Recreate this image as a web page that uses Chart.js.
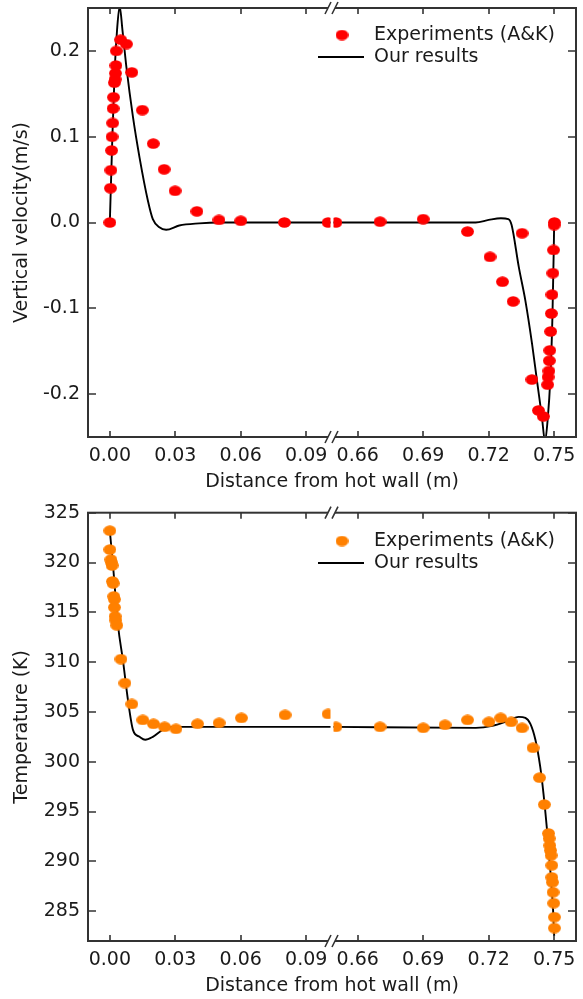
<!DOCTYPE html>
<html>
<head>
<meta charset="utf-8">
<script src="https://cdn.jsdelivr.net/npm/chart.js@4.4.1/dist/chart.umd.min.js"></script>
<style>
  html, body { margin: 0; padding: 0; background: #fff; }
  canvas { display: block; }
</style>
</head>
<body>
<canvas id="velocity-chart" width="583" height="500"></canvas>
<canvas id="temperature-chart" width="583" height="499"></canvas>
<script>
const xTicksNear = [0, 0.03, 0.06, 0.09]
const xTicksFar = [0.66, 0.69, 0.72, 0.75]
const velTicks = [-0.2, -0.1, 0, 0.1, 0.2]
const tempTicks = [285, 290, 295, 300, 305, 310, 315, 320, 325]

// [distance (m), vertical velocity (m/s)]
const velExp = [
  [0, 0], [0.0003, 0.040], [0.0005, 0.061], [0.0008, 0.084], [0.001, 0.100], [0.0013, 0.116],
  [0.0015, 0.133], [0.0017, 0.146], [0.0021, 0.163], [0.0024, 0.167], [0.0026, 0.174],
  [0.0028, 0.183], [0.003, 0.200], [0.005, 0.213], [0.0076, 0.208], [0.0101, 0.175],
  [0.0149, 0.131], [0.0199, 0.092], [0.0249, 0.062], [0.0299, 0.037], [0.0399, 0.013],
  [0.05, 0.003], [0.06, 0.002], [0.08, 0.000], [0.1, 0.0],
  [0.65, 0.0], [0.6702, 0.001], [0.69, 0.004], [0.7103, -0.0105], [0.7206, -0.040],
  [0.7263, -0.069], [0.7312, -0.092], [0.7353, -0.0125], [0.7398, -0.183], [0.7428, -0.219],
  [0.745, -0.226], [0.747, -0.189], [0.7472, -0.180], [0.7476, -0.173], [0.7478, -0.161],
  [0.748, -0.149], [0.7484, -0.127], [0.7487, -0.106], [0.749, -0.084], [0.7494, -0.059],
  [0.7497, -0.032], [0.75, -0.003], [0.7501, 0.0]
]
const velSim = [
  [0, 0], [0.0012, 0.103], [0.0023, 0.181], [0.0033, 0.224], [0.0045, 0.252], [0.0058, 0.224],
  [0.0076, 0.181], [0.0106, 0.123], [0.0136, 0.076], [0.0174, 0.026], [0.0197, 0.004],
  [0.0227, -0.0055], [0.0258, -0.0085], [0.0318, -0.0035], [0.0409, -0.001], [0.05, 0], [0.102, 0],
  [0.648, 0], [0.714, 0], [0.72, 0.003], [0.7256, 0.005], [0.729, 0.004], [0.7305, -0.003],
  [0.7338, -0.052], [0.7368, -0.091], [0.7399, -0.142], [0.7421, -0.184], [0.7444, -0.227],
  [0.7458, -0.255], [0.7471, -0.227], [0.7482, -0.184], [0.7492, -0.11], [0.7498, -0.033], [0.75, 0]
]

// [distance (m), temperature (K)]
const tempExp = [
  [0, 323.2], [0, 321.3], [0.0005, 320.3], [0.0008, 320.0], [0.001, 319.7], [0.0012, 318.1],
  [0.0015, 317.9], [0.0018, 316.6], [0.0021, 316.3], [0.0021, 315.5], [0.0024, 314.6],
  [0.0027, 314.2], [0.0032, 313.7], [0.0051, 310.3], [0.0069, 307.9], [0.0101, 305.8],
  [0.0151, 304.2], [0.02, 303.8], [0.0251, 303.5], [0.0303, 303.3], [0.0402, 303.8],
  [0.0501, 303.9], [0.0603, 304.4], [0.0803, 304.7], [0.1, 304.8],
  [0.65, 303.5], [0.6702, 303.5], [0.69, 303.4], [0.70, 303.7], [0.7103, 304.2], [0.7201, 304.0],
  [0.7255, 304.4], [0.7303, 304.0], [0.7353, 303.4], [0.7403, 301.4], [0.7433, 298.4],
  [0.7455, 295.7], [0.7474, 292.8], [0.7477, 292.3], [0.748, 291.6], [0.7483, 291.1],
  [0.7486, 290.6], [0.7489, 289.6], [0.7489, 288.4], [0.7492, 287.9], [0.7495, 286.9],
  [0.7498, 285.8], [0.7501, 284.4], [0.7501, 283.3]
]
const tempSim = [
  [0, 323.2], [0.0015, 319.6], [0.0038, 313.6], [0.006, 310.2], [0.0083, 306.2], [0.0106, 303.2],
  [0.0136, 302.5], [0.0162, 302.2], [0.0197, 302.5], [0.0242, 303.2], [0.0288, 303.5], [0.102, 303.5],
  [0.648, 303.5], [0.7141, 303.4], [0.7217, 303.6], [0.7277, 304.0], [0.7338, 304.5], [0.7368, 304.4],
  [0.7391, 303.8], [0.7414, 302.2], [0.7436, 299.5], [0.7451, 296.8], [0.7467, 293.2],
  [0.7482, 289.2], [0.7495, 285.1], [0.75, 282.5]
]

const FONT = "'DejaVu Sans', sans-serif"
const TEXT = '#1a1a1a'
const AXIS = '#333333'

const near = pts => pts.filter(p => p[0] < 0.3).map(([x, y]) => ({x, y}))
const far = pts => pts.filter(p => p[0] > 0.3).map(([x, y]) => ({x, y}))

const dotImage = function (color) {
  const c = document.createElement('canvas')
  c.width = 13
  c.height = 11
  const g = c.getContext('2d')
  g.fillStyle = color
  g.beginPath()
  g.ellipse(6.5, 5.5, 6.4, 5.3, 0, 0, Math.PI * 2)
  g.fill()
  return c
}

const noPad = s => { s.paddingTop = 0; s.paddingBottom = 0; s.paddingLeft = 0; s.paddingRight = 0 }

// each half of the broken axis only shows its own marks, with a thin gap at the break
const splitClipPlugin = {
  id: 'splitClip',
  beforeDatasetDraw(chart, args) {
    const xs = chart.scales[args.meta.xAxisID]
    const {top, bottom} = chart.chartArea
    const l = xs.id === 'xFar' ? xs.left + 1.5 : xs.left
    const r = xs.id === 'xNear' ? xs.right - 1.5 : xs.right
    chart.ctx.save()
    chart.ctx.beginPath()
    chart.ctx.rect(l, top, r - l, bottom - top)
    chart.ctx.clip()
  },
  afterDatasetDraw(chart) {
    chart.ctx.restore()
  }
}

// inward ticks on all four sides, frame and the // axis break
const framePlugin = {
  id: 'frame',
  afterDatasetsDraw(chart) {
    const {ctx, chartArea: {left, right, top, bottom}, scales} = chart
    ctx.save()
    ctx.strokeStyle = AXIS
    ctx.lineWidth = 2
    ctx.strokeRect(left, top, right - left, bottom - top)
    ctx.lineWidth = 1.6
    ctx.beginPath()
    for (const id of ['xNear', 'xFar']) {
      for (const t of scales[id].ticks) {
        const x = Math.round(scales[id].getPixelForValue(t.value))
        ctx.moveTo(x, bottom); ctx.lineTo(x, bottom - 6)
        ctx.moveTo(x, top); ctx.lineTo(x, top + 6)
      }
    }
    for (const t of scales.y.ticks) {
      const y = Math.round(scales.y.getPixelForValue(t.value))
      ctx.moveTo(left, y); ctx.lineTo(left + 8, y)
      ctx.moveTo(right, y); ctx.lineTo(right - 8, y)
    }
    ctx.stroke()
    const bx = scales.xNear.right
    for (const y of [top, bottom]) {
      ctx.fillStyle = '#fff'
      ctx.fillRect(bx - 4, y - 2, 7, 4)
      ctx.beginPath()
      ctx.moveTo(bx - 7, y + 6); ctx.lineTo(bx - 1, y - 6)
      ctx.moveTo(bx, y + 6); ctx.lineTo(bx + 6, y - 6)
      ctx.stroke()
    }
    ctx.restore()
  }
}

const legendPlugin = {
  id: 'cornerLegend',
  afterDraw(chart, args, opts) {
    const ctx = chart.ctx
    const ds = chart.data.datasets
    ctx.save()
    ctx.font = '19px ' + FONT
    ctx.fillStyle = TEXT
    ctx.textBaseline = 'middle'
    ctx.drawImage(opts.dot, opts.x + 24 - 6.5, opts.y - 5.5)
    ctx.fillText(ds[0].label, opts.x + 56, opts.y)
    ctx.strokeStyle = '#000'
    ctx.lineWidth = 2
    ctx.beginPath()
    ctx.moveTo(opts.x, opts.y + opts.gap)
    ctx.lineTo(opts.x + 46, opts.y + opts.gap)
    ctx.stroke()
    ctx.fillText(ds[2].label, opts.x + 56, opts.y + opts.gap)
    ctx.restore()
  }
}

const makeChart = function (canvasId, exp, sim, dotColor, yCfg, layoutTop, titleGap, legendY) {
  const dot = dotImage(dotColor)
  const expStyle = { showLine: false, pointStyle: dot, pointRadius: 6, pointHoverRadius: 6, clip: false }
  const simStyle = { showLine: true, pointRadius: 0, borderColor: '#000', backgroundColor: '#000',
    borderWidth: 1.9, cubicInterpolationMode: 'monotone', clip: false }
  const xAxis = (min, max, ticks) => ({
    type: 'linear', position: 'bottom', stack: 'x', stackWeight: 1, min, max,
    afterBuildTicks: s => { s.ticks = ticks.map(v => ({value: v})) },
    afterFit: s => { s.height = 28; noPad(s) },
    grid: { display: false, drawTicks: false },
    border: { display: false },
    ticks: { padding: 8, color: TEXT, font: { family: FONT, size: 19 }, callback: v => v.toFixed(2) }
  })
  return new Chart(document.getElementById(canvasId), {
    type: 'scatter',
    data: {
      datasets: [
        { label: 'Experiments (A&K)', data: near(exp), xAxisID: 'xNear', ...expStyle },
        { label: 'Experiments (A&K)', data: far(exp), xAxisID: 'xFar', ...expStyle },
        { label: 'Our results', data: near(sim), xAxisID: 'xNear', ...simStyle },
        { label: 'Our results', data: far(sim), xAxisID: 'xFar', ...simStyle }
      ]
    },
    options: {
      responsive: false,
      animation: false,
      layout: { padding: { left: 0, right: 3, top: layoutTop, bottom: 0 } },
      scales: {
        xNear: xAxis(-0.01, 0.1018, xTicksNear),
        xFar: xAxis(0.6482, 0.76, xTicksFar),
        y: {
          type: 'linear', position: 'left', min: yCfg.min, max: yCfg.max,
          afterBuildTicks: s => { s.ticks = yCfg.ticks.map(v => ({value: v})) },
          afterFit: s => { s.width = 88; noPad(s) },
          grid: { display: false, drawTicks: false },
          border: { display: false },
          ticks: { padding: 8, color: TEXT, font: { family: FONT, size: 19 }, callback: yCfg.format },
          title: { display: true, text: yCfg.title, color: TEXT, font: { family: FONT, size: 19 },
            padding: { top: 11, bottom: 0 } }
        }
      },
      plugins: {
        legend: { display: false },
        tooltip: { enabled: false },
        title: {
          display: true, text: 'Distance from hot wall (m)', position: 'bottom', fullSize: false,
          color: TEXT, font: { family: FONT, size: 19, weight: 'normal' }, padding: titleGap
        },
        cornerLegend: { dot, x: 318, y: legendY, gap: 22 }
      }
    },
    plugins: [splitClipPlugin, framePlugin, legendPlugin]
  })
}

const velocityChart = makeChart('velocity-chart', velExp, velSim, '#ff0000', {
  min: -0.25, max: 0.25, ticks: velTicks, format: v => v.toFixed(1), title: 'Vertical velocity(m/s)'
}, 8, { top: 5.3, bottom: 6.9 }, 35)

const temperatureChart = makeChart('temperature-chart', tempExp, tempSim, '#ff8000', {
  min: 282, max: 325, ticks: tempTicks, format: v => String(v), title: 'Temperature (K)'
}, 12.7, { top: 5.6, bottom: 1.6 }, 41)
</script>
</body>
</html>
